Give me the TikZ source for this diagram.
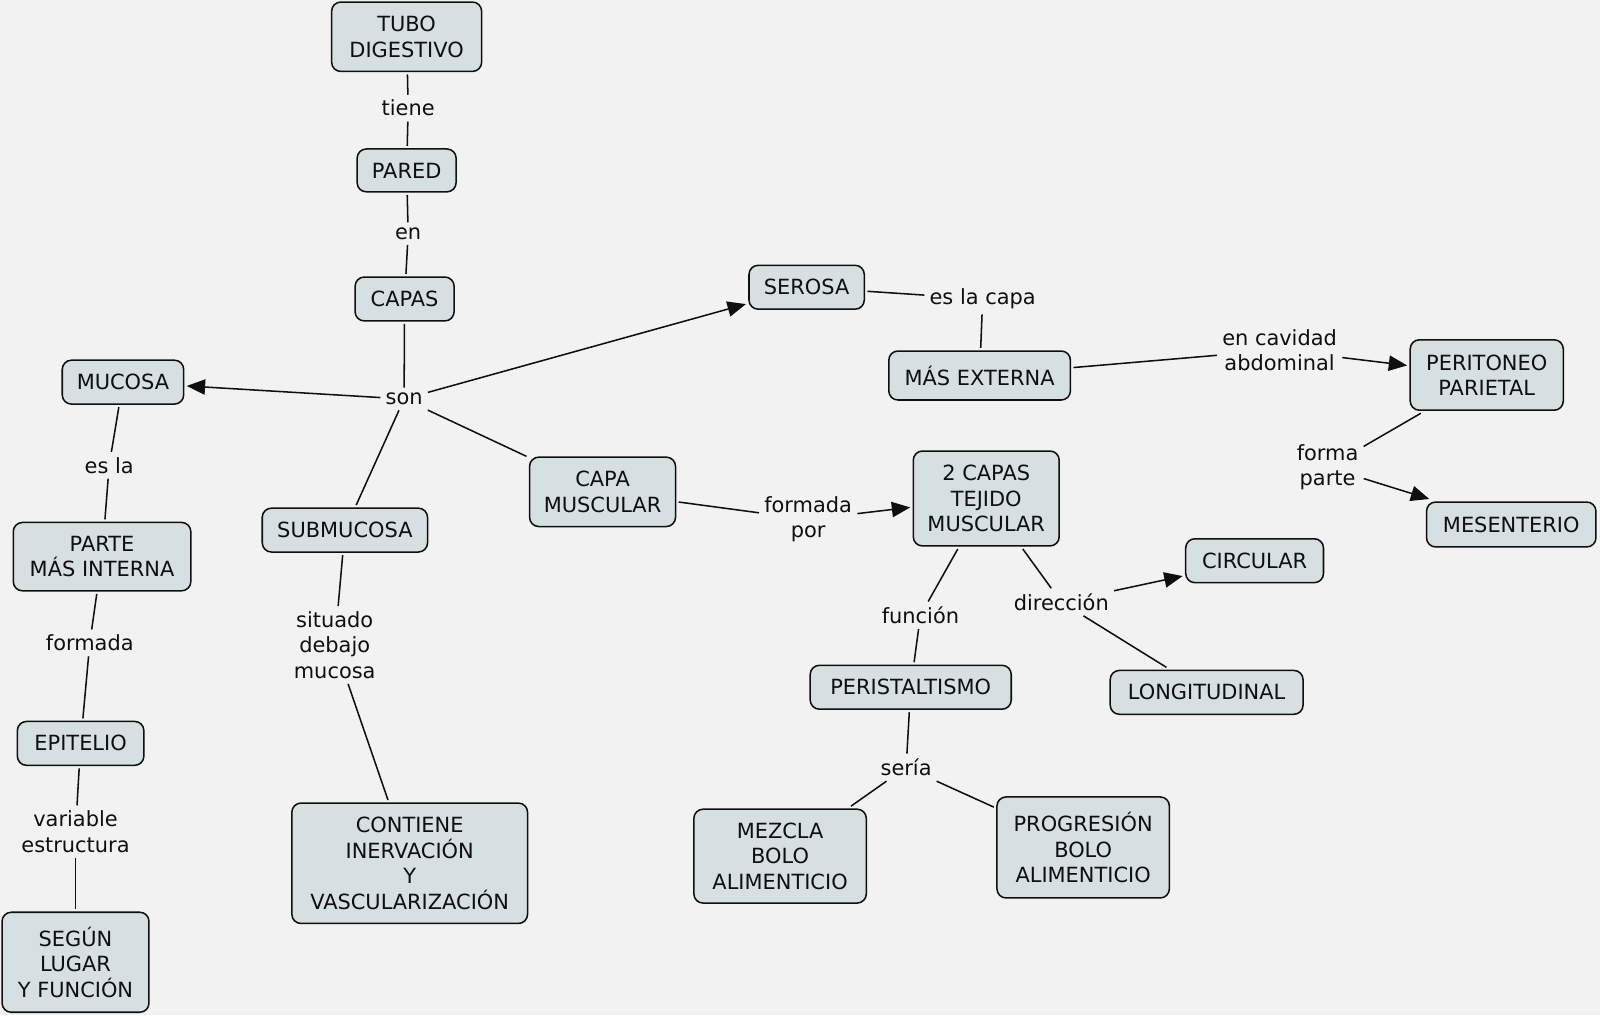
\documentclass[tikz,border=0pt]{standalone}
\usepackage{fontspec}
\setmainfont{DejaVu Sans}
\usetikzlibrary{arrows.meta}
\definecolor{bg}{RGB}{242,242,242}
\definecolor{boxfill}{RGB}{214,224,227}
\definecolor{ink}{RGB}{15,15,15}
\tikzset{
  concept/.style 2 args={draw=ink, fill=boxfill, line width=1.5pt, rounded corners=9pt,
    minimum width=#1, minimum height=#2, align=center, inner sep=2pt, outer sep=3pt,
    text=ink, font=\fontsize{20.5}{25}\selectfont},
  phrase/.style={align=center, inner sep=5pt, text=ink, font=\fontsize{20.5}{25}\selectfont},
  link/.style={draw=ink, line width=1.5pt},
  arr/.style={draw=ink, line width=1.5pt, -{Triangle[length=18pt,width=15pt]}}
}
\begin{document}
\begin{tikzpicture}[x=1pt,y=-1pt]
\useasboundingbox (0,0) rectangle (1568,995);
\fill[bg] (0,0) rectangle (1568,995);
% concepts
\node[concept={147pt}{68pt}] (tubo) at (398.5,36) {TUBO\\DIGESTIVO};
\node[concept={97pt}{42pt}] (pared) at (398.5,167) {PARED};
\node[concept={97pt}{43pt}] (capas) at (396.5,293) {CAPAS};
\node[concept={119pt}{43pt}] (mucosa) at (120.5,374.5) {MUCOSA};
\node[concept={174pt}{67pt}] (parte) at (100,545.5) {PARTE\\MÁS INTERNA};
\node[concept={124pt}{43pt}] (epitelio) at (79,728.5) {EPITELIO};
\node[concept={144pt}{98pt}] (segun) at (74,943) {SEGÚN\\LUGAR\\Y FUNCIÓN};
\node[concept={162pt}{43pt}] (submucosa) at (338,519.5) {SUBMUCOSA};
\node[concept={231pt}{118pt}] (contiene) at (401.5,846) {CONTIENE\\INERVACIÓN\\Y\\VASCULARIZACIÓN};
\node[concept={143pt}{68pt}] (capamusc) at (590.5,482) {CAPA\\MUSCULAR};
\node[concept={113pt}{43pt}] (serosa) at (790.5,281.5) {SEROSA};
\node[concept={178pt}{48pt}] (externa) at (960,368) {MÁS EXTERNA};
\node[concept={150pt}{69pt}] (peritoneo) at (1457,367.5) {PERITONEO\\PARIETAL};
\node[concept={166pt}{44pt}] (mesenterio) at (1481,514) {MESENTERIO};
\node[concept={143pt}{93pt}] (doscapas) at (966.5,488.5) {2 CAPAS\\TEJIDO\\MUSCULAR};
\node[concept={135pt}{43pt}] (circular) at (1229.5,549.5) {CIRCULAR};
\node[concept={189pt}{43pt}] (longitudinal) at (1182.5,678.5) {LONGITUDINAL};
\node[concept={197pt}{43pt}] (peristaltismo) at (892.5,673.5) {PERISTALTISMO};
\node[concept={169pt}{92pt}] (mezcla) at (764.5,839) {MEZCLA\\BOLO\\ALIMENTICIO};
\node[concept={169pt}{99pt}] (progresion) at (1061.5,830.5) {PROGRESIÓN\\BOLO\\ALIMENTICIO};
% linking phrases
\node[phrase] (tiene) at (400,106) {tiene};
\node[phrase] (en) at (400,229) {en};
\node[phrase] (son) at (396,391) {son};
\node[phrase] (esla) at (107,456) {es la};
\node[phrase] (formada) at (88,630) {formada};
\node[phrase] (variable) at (74,815) {variable\\estructura};
\node[phrase] (situado) at (328,632) {situado\\debajo\\mucosa};
\node[phrase] (eslacapa) at (963,293) {es la capa};
\node[phrase] (cavidad) at (1254,343) {en cavidad\\abdominal};
\node[phrase] (formaparte) at (1301,458) {forma\\parte};
\node[phrase] (formadapor) at (792,509) {formada\\por};
\node[phrase] (funcion) at (902,603) {función};
\node[phrase] (direccion) at (1040,590) {dirección};
\node[phrase] (seria) at (888,752) {sería};
% connectors
\draw[link] (tubo) -- (tiene);
\draw[link] (tiene) -- (pared);
\draw[link] (pared) -- (en);
\draw[link] (en) -- (capas);
\draw[link] (capas) -- (son);
\draw[arr] (son) -- (mucosa);
\draw[arr] (son) -- (serosa);
\draw[link] (son) -- (capamusc);
\draw[link] (son) -- (submucosa);
\draw[link] (mucosa) -- (esla);
\draw[link] (esla) -- (parte);
\draw[link] (parte) -- (formada);
\draw[link] (formada) -- (epitelio);
\draw[link] (epitelio) -- (variable);
\draw[link] (variable) -- (segun);
\draw[link] (submucosa) -- (situado);
\draw[link] (situado) -- (contiene);
\draw[link] (serosa) -- (eslacapa);
\draw[link] (eslacapa) -- (externa);
\draw[link] (externa) -- (cavidad);
\draw[arr] (cavidad) -- (peritoneo);
\draw[link] (peritoneo) -- (formaparte);
\draw[arr] (formaparte) -- (mesenterio);
\draw[link] (capamusc) -- (formadapor);
\draw[arr] (formadapor) -- (doscapas);
\draw[link] (doscapas) -- (funcion);
\draw[link] (funcion) -- (peristaltismo);
\draw[link] (doscapas) -- (direccion);
\draw[arr] (direccion) -- (circular);
\draw[link] (direccion) -- (longitudinal);
\draw[link] (peristaltismo) -- (seria);
\draw[link] (seria) -- (mezcla);
\draw[link] (seria) -- (progresion);
\end{tikzpicture}
\end{document}
